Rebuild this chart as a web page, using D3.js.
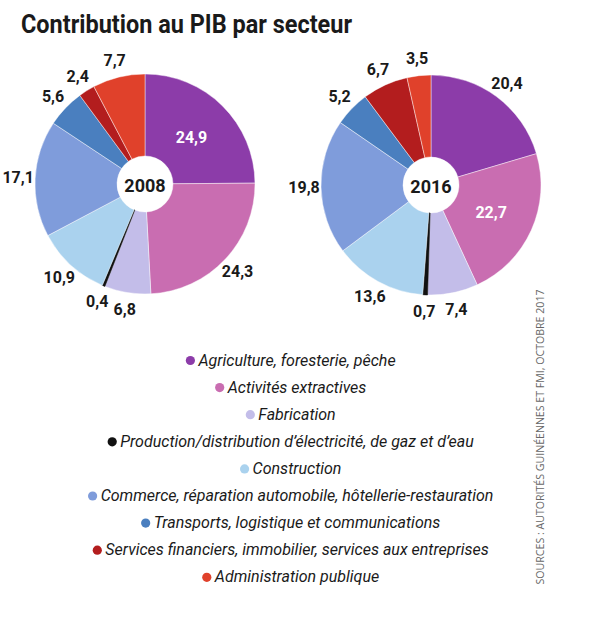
<!DOCTYPE html>
<html><head><meta charset="utf-8">
<script src="https://cdn.jsdelivr.net/npm/d3@7/dist/d3.min.js"></script>
<style>body{margin:0;background:#fff}svg{display:block}</style>
</head><body>
<svg id="c" width="600" height="634"></svg>
<script>
const sectors = [
  "Agriculture, foresterie, pêche",
  "Activités extractives",
  "Fabrication",
  "Production/distribution d’électricité, de gaz et d’eau",
  "Construction",
  "Commerce, réparation automobile, hôtellerie-restauration",
  "Transports, logistique et communications",
  "Services financiers, immobilier, services aux entreprises",
  "Administration publique"
];
const colors = ["#8c3ca9","#c96db1","#c3bde9","#111111","#aad2ee","#7f9cdb","#4a7fbf","#b31d1e","#e0412b"];
const values2008 = [24.9, 24.3, 6.8, 0.4, 10.9, 17.1, 5.6, 2.4, 7.7];
const values2016 = [20.4, 22.7, 7.4, 0.7, 13.6, 19.8, 5.2, 6.7, 3.5];
const years = ["2008", "2016"];
const insideLabels = [[0], [1]]; // slice indices whose labels are white inside
const title = "Contribution au PIB par secteur";
const source = "SOURCES : AUTORITÉS GUINÉENNES ET FMI, OCTOBRE 2017";

const svg = d3.select("#c");
const fmt = v => String(v).replace(".", ",");

svg.append("text").attr("x", 21).attr("y", 33)
  .attr("font-family", "Roboto").attr("font-weight", 700).attr("font-size", 25)
  .attr("textLength", 331).attr("lengthAdjust", "spacingAndGlyphs")
  .attr("fill", "#1a1a1a").text(title);

const R = 110, r0 = 28;
const centers = [[145, 184], [431, 185]];
const pie = d3.pie().sort(null).value(d => d);
const arc = d3.arc().innerRadius(r0).outerRadius(R);
const labelArc = d3.arc().innerRadius(127).outerRadius(127);
const inArc = d3.arc().innerRadius(66).outerRadius(66);

[values2008, values2016].forEach((vals, k) => {
  const g = svg.append("g").attr("transform", `translate(${centers[k][0]},${centers[k][1]})`);
  const arcs = pie(vals);
  g.selectAll("path").data(arcs).join("path")
    .attr("d", arc)
    .attr("fill", (d, i) => colors[i])
    .attr("stroke", (d, i) => i === 3 ? colors[i] : "rgba(255,255,255,0.55)")
    .attr("stroke-width", (d, i) => i === 3 ? 0.6 : 0.8);
  g.selectAll("text.v").data(arcs).join("text")
    .attr("class", "v")
    .attr("transform", (d, i) => {
      const p = insideLabels[k].includes(i) ? inArc.centroid(d) : labelArc.centroid(d);
      return `translate(${p[0]},${p[1]})`;
    })
    .attr("text-anchor", "middle").attr("dominant-baseline", "central")
    .attr("font-family", "Roboto").attr("font-weight", 700).attr("font-size", 16)
    .attr("fill", (d, i) => insideLabels[k].includes(i) ? "#fff" : "#1a1a1a")
    .text(d => fmt(d.data));
  g.append("text").attr("text-anchor", "middle").attr("dominant-baseline", "central")
    .attr("y", 1)
    .attr("font-family", "Roboto").attr("font-weight", 700).attr("font-size", 18)
    .attr("fill", "#1a1a1a").text(years[k]);
});

// legend
const legend = svg.append("g");
sectors.forEach((s, i) => {
  const row = legend.append("g").attr("transform", `translate(291,${360 + i * 27.1})`);
  const t = row.append("text").attr("dominant-baseline", "central")
    .attr("font-family", "Roboto").attr("font-style", "italic").attr("font-size", 16)
    .attr("fill", "#1a1a1a").text(s);
  const w = t.node().getComputedTextLength();
  const dotW = 12;
  const x0 = -(w + dotW) / 2;
  t.attr("x", x0 + dotW);
  row.append("circle").attr("cx", x0 + 4).attr("cy", 0.5).attr("r", 4.6)
    .attr("fill", colors[i]);
});

svg.append("text")
  .attr("transform", "translate(540,437) rotate(-90)")
  .attr("text-anchor", "middle").attr("dominant-baseline", "central")
  .attr("font-family", "Open Sans").attr("font-size", 10)
  .attr("textLength", 295).attr("lengthAdjust", "spacingAndGlyphs")
  .attr("fill", "#666").text(source);
</script>
</body></html>
